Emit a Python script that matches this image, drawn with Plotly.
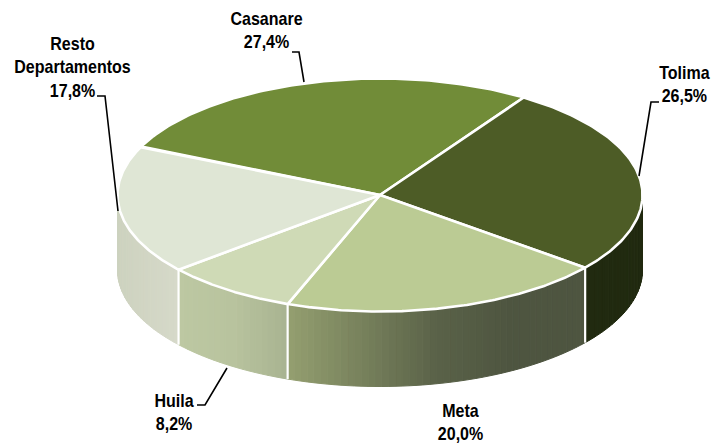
import numpy as np
import plotly.graph_objects as go

# --- data ---
categories = ["Casanare", "Tolima", "Meta", "Huila", "Resto Departamentos"]
shares = [27.4, 26.5, 20.0, 8.2, 17.8]
share_labels = ["27,4%", "26,5%", "20,0%", "8,2%", "17,8%"]
top_colors = ["#718C38", "#4D5C26", "#BBCB94", "#CFDAB6", "#DFE6D5"]
side_stops = [
    ["#718C38", "#718C38"],
    ["#212A10", "#212A10"],
    ["#949F70", "#77815C", "#5A6248", "#4E5540", "#4E5540"],
    ["#BDC8A2", "#B8C39E", "#A8B391"],
    ["#CDD2BF", "#D6D9C9"],
]

# --- geometry of the projected disc (pixels) ---
W, H = 726, 445
CX, CY, RX, RY, DEPTH = 380.0, 195.0, 262.5, 116.5, 75.0
FIRST_ANGLE = 33.2  # end of the first slice, clockwise from top
start = FIRST_ANGLE - shares[0] * 3.6


def px(theta):
    t = np.radians(theta)
    return CX + RX * np.sin(t), CY - RY * np.cos(t)


def rgb(h):
    return np.array([int(h[i:i + 2], 16) for i in (1, 3, 5)], float)


def mix(stops, f):
    pos = f * (len(stops) - 1)
    i = min(int(pos), len(stops) - 2) if len(stops) > 1 else 0
    c = rgb(stops[i]) + (rgb(stops[i + 1]) - rgb(stops[i])) * (pos - i)
    return "rgb(%d,%d,%d)" % tuple(c.round())


fig = go.Figure()
edges = start + np.cumsum([0] + [s * 3.6 for s in shares])

# side wall
for k in range(len(shares)):
    a0, a1 = max(edges[k], 90), min(edges[k + 1], 270)
    if a0 >= a1:
        a0, a1 = max(edges[k] + 360, 90), min(edges[k + 1] + 360, 270)
    if a0 >= a1:
        continue
    x0, x1 = sorted([px(a0)[0], px(a1)[0]])
    n = max(2, int((a1 - a0) / 1.5))
    bands = np.linspace(a0, a1, n + 1)
    for j in range(n):
        th = np.linspace(bands[j], bands[j + 1], 4)
        xs, ys = px(th)
        mx = (xs.mean() - x0) / (x1 - x0)
        col = mix(side_stops[k], float(np.clip(mx, 0, 1)))
        fig.add_trace(go.Scatter(
            x=list(xs) + list(xs[::-1]) + [xs[0]],
            y=list(ys) + list((ys + DEPTH)[::-1]) + [ys[0]],
            mode="lines", fill="toself", fillcolor=col,
            line=dict(color=col, width=1), hoverinfo="skip", showlegend=False))

# white separators on the wall
for e in edges:
    e = e % 360
    if 90 < e < 270:
        x, y = px(e)
        fig.add_trace(go.Scatter(x=[x, x], y=[y, y + DEPTH], mode="lines",
                                 line=dict(color="white", width=2.2),
                                 hoverinfo="skip", showlegend=False))

# top face
for k in range(len(shares)):
    th = np.linspace(edges[k], edges[k + 1], 120)
    xs, ys = px(th)
    fig.add_trace(go.Scatter(
        x=[CX] + list(xs) + [CX], y=[CY] + list(ys) + [CY],
        mode="lines", fill="toself", fillcolor=top_colors[k],
        line=dict(color="white", width=2.6, shape="linear"),
        name=categories[k], text=share_labels[k], hoverinfo="name+text",
        showlegend=False))

# labels
label_pos = {
    "Casanare": (266, 30), "Tolima": (685, 84), "Meta": (460, 422),
    "Huila": (174, 412), "Resto Departamentos": (72, 67),
}
label_text = {"Resto Departamentos": "Resto<br>Departamentos"}
for c, s in zip(categories, share_labels):
    x, y = label_pos[c]
    fig.add_annotation(x=x, y=y, xref="x", yref="y", showarrow=False,
                       text="<b>%s<br>%s</b>" % (label_text.get(c, c), s),
                       align="center",
                       font=dict(family="Liberation Sans", size=18, color="black"))

# leader lines
leaders = [
    [(292, 52), (299, 52), (304, 82)],
    [(97, 96), (105, 96), (118, 211)],
    [(659, 102), (651, 102), (639, 176)],
    [(197, 405), (205, 405), (227, 368)],
]
for pts in leaders:
    fig.add_trace(go.Scatter(x=[p[0] for p in pts], y=[p[1] for p in pts], mode="lines",
                             line=dict(color="black", width=1.6),
                             hoverinfo="skip", showlegend=False))

fig.update_layout(
    width=W, height=H, autosize=False,
    margin=dict(l=0, r=0, t=0, b=0),
    paper_bgcolor="white", plot_bgcolor="white", showlegend=False,
    xaxis=dict(range=[0, W], visible=False, fixedrange=True),
    yaxis=dict(range=[H, 0], visible=False, fixedrange=True),
)

# the original labels use a narrow bold face: squeeze the real text horizontally
squeeze = """
document.body.style.margin='0';
document.querySelectorAll('text.annotation-text').forEach(function(el){
  var b = el.getBBox(), c = b.x + b.width / 2;
  el.setAttribute('transform', 'translate(' + c + ',0) scale(0.89,1) translate(' + (-c) + ',0)');
});
"""
fig.write_html("out.html", post_script=squeeze, config={"displayModeBar": False})
